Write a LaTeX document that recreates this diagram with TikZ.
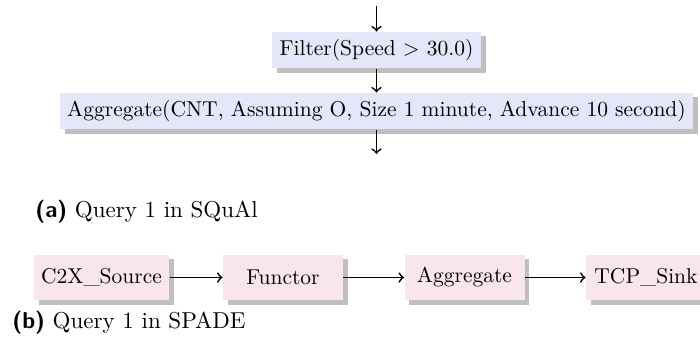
\documentclass[tikz,border=0pt]{standalone}
\usetikzlibrary{shadows}
\definecolor{boxblue}{RGB}{230,230,250}
\definecolor{boxpink}{RGB}{249,230,236}
\definecolor{shadowgray}{RGB}{191,191,191}
\begin{document}
\begin{tikzpicture}[x=0.465pt,y=-0.465pt,
  opbox/.style={fill=#1, minimum height=16.8pt, inner xsep=3.4pt,
    general shadow={fill=shadowgray, shadow xshift=2.2pt, shadow yshift=-2.1pt}},
  spbox/.style={fill=boxpink, minimum height=21pt, minimum width=55.8pt, inner xsep=3.4pt,
    general shadow={fill=shadowgray, shadow xshift=2.2pt, shadow yshift=-2.1pt}},
  flow/.style={->, thick},
  captext/.style={anchor=base west, inner sep=0pt, font=\fontsize{10.7}{13}\selectfont}]
\useasboundingbox (0,0) rectangle (700,340);
\clip (0,0) rectangle (700,340);
% (a) SQuAl
\coordinate (top) at (376.5,6);
\node[opbox=boxblue, minimum width=96pt] (filter) at (376.5,50) {Filter(Speed $>$ 30.0)};
\node[opbox=boxblue] (aggr) at (376.5,111) {Aggregate(CNT, Assuming O, Size 1 minute, Advance 10 second)};
\coordinate (bot) at (376.5,154);
\draw[flow] (top) -- (filter.north);
\draw[flow] (filter.south) -- (aggr.north);
\draw[flow] (aggr.south) -- (bot);
\node[captext] (capa) at (35,217) {\textsf{\bfseries (a)} Query 1 in SQuAl};
% (b) SPADE
\node[spbox] (src) at (101.5,277.5) {C2X\_Source};
\node[spbox] (fun) at (283,277.5) {Functor};
\node[spbox] (agg) at (464.5,277.5) {Aggregate};
\node[spbox] (sink) at (646,277.5) {TCP\_Sink};
\draw[flow] (src) -- (fun);
\draw[flow] (fun) -- (agg);
\draw[flow] (agg) -- (sink);
\node[captext] (capb) at (12,328) {\textsf{\bfseries (b)} Query 1 in SPADE};
\end{tikzpicture}
\end{document}
